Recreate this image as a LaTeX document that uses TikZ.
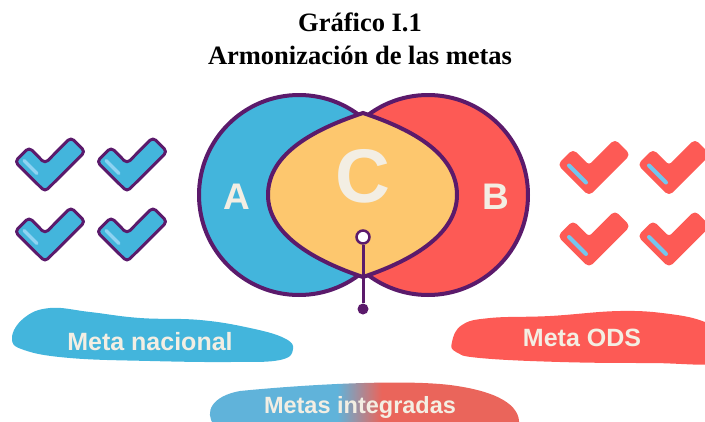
\documentclass[tikz,border=0pt]{standalone}
\usepackage{fontspec}
\setmainfont{Liberation Serif}
\newfontfamily\vennfont{Liberation Sans}
\usetikzlibrary{positioning}
\definecolor{vennblue}{HTML}{43B5DC}
\definecolor{vennred}{HTML}{FD5A55}
\definecolor{vennorange}{HTML}{FDC76E}
\definecolor{vennpurple}{HTML}{5B1A6B}
\definecolor{venncream}{HTML}{F3EEE3}
\definecolor{shineblue}{HTML}{8FD3F2}
\definecolor{shinered}{HTML}{74C6EE}
\definecolor{intblue}{HTML}{60B3DA}
\definecolor{intred}{HTML}{EA655B}
\pgfdeclarehorizontalshading{intshade}{100bp}{color(0bp)=(intblue); color(46bp)=(intblue); color(53bp)=(intred); color(100bp)=(intred)}

\begin{document}
\begin{tikzpicture}[x=1pt, y=-1pt,
    titlenode/.style={anchor=base, font=\bfseries\fontsize{26.5}{30}\selectfont},
    vennline/.style={draw=vennpurple, line width=4},
    letternode/.style={text=venncream, font=\vennfont\bfseries\fontsize{37}{40}\selectfont},
    blobtext/.style={anchor=base, text=venncream, font=\vennfont\bfseries\fontsize{25}{28}\selectfont},
    checkshape/.style={rounded corners=4, line join=round},
    shineline/.style={line cap=round, line width=3.5}]
    \useasboundingbox (0,0) rectangle (705,421);
    \clip (0,0) rectangle (705,421);

    %Title
    \node[titlenode]        (title)      at (360,31)  {Gráfico I.1};
    \node[titlenode]        (subtitle)   at (360,64)  {Armonización de las metas};

    %Circles
    \draw[vennline, fill=vennblue] (299,195) circle (100);
    \draw[vennline, fill=vennred]  (428,195) circle (100);
    \draw[vennline, fill=vennorange] (363,113)
        .. controls (318,128) and (268,152) .. (268,195)
        .. controls (268,236) and (318,262) .. (363,277)
        .. controls (408,262) and (457,236) .. (457,195)
        .. controls (457,152) and (408,128) .. (363,113) -- cycle;

    %Letters
    \node[letternode]       (la)         at (237,197) {A};
    \node[letternode]       (lb)         at (496,197) {B};
    \node[letternode, font=\vennfont\bfseries\fontsize{76}{80}\selectfont] (lc) at (363,176) {C};

    %Pin
    \node[circle, draw=vennpurple, fill=white, line width=2.5, minimum size=13, inner sep=0] (pin) at (363,237) {};
    \node[circle, fill=vennpurple, minimum size=11, inner sep=0] (pindot) at (363,309) {};
    \draw[vennpurple, line width=3] (pin) -- (pindot);

    %Checks
    \foreach \cx/\cy in {45/177.5, 127/177.5, 45/247.5, 127/247.5} {
        \draw[checkshape, fill=vennblue, draw=vennpurple, line width=3]
            (\cx,\cy+14.1) -- (\cx-30.1,\cy-15.9) -- (\cx-15.9,\cy-30.1) -- (\cx,\cy-14.1)
            -- (\cx+25.9,\cy-40.1) -- (\cx+40.1,\cy-25.9) -- cycle;
        \draw[shineline, shineblue] (\cx-21,\cy-17) -- (\cx-8,\cy-4);
    }
    \foreach \cx/\cy in {589/180.5, 669/180.5, 589/252, 669/252} {
        \draw[checkshape, fill=vennred, draw=vennred, line width=2]
            (\cx,\cy+14.1) -- (\cx-30.1,\cy-15.9) -- (\cx-15.9,\cy-30.1) -- (\cx,\cy-14.1)
            -- (\cx+25.9,\cy-40.1) -- (\cx+40.1,\cy-25.9) -- cycle;
        \draw[shineline, shinered, line width=4] (\cx-20,\cy-15) -- (\cx-3,\cy+2);
    }

    %Blobs
    \fill[vennblue] plot[smooth cycle, tension=0.7] coordinates {(12,338) (24,318) (50,308) (90,312) (140,318) (200,320) (250,328) (284,338) (293,349) (280,360) (230,362) (150,361) (70,358) (24,350)};
    \fill[vennred] plot[smooth cycle, tension=0.7] coordinates {(452,342) (462,325) (490,318) (550,316) (620,311) (670,314) (705,322) (725,335) (725,362) (650,363) (560,362) (480,358) (456,352)};
    \shade[shading=intshade] (214,425)
        .. controls (204,412) and (212,396) .. (240,391)
        .. controls (300,385) and (400,379) .. (450,385)
        .. controls (497,391) and (521,405) .. (519,425) -- cycle;

    %Labels
    \node[blobtext]         (nacional)   at (150,350) {Meta nacional};
    \node[blobtext]         (ods)        at (582,346) {Meta ODS};
    \node[blobtext, font=\vennfont\bfseries\fontsize{23.5}{26}\selectfont] (integradas) at (360,413) {Metas integradas};
\end{tikzpicture}
\end{document}
